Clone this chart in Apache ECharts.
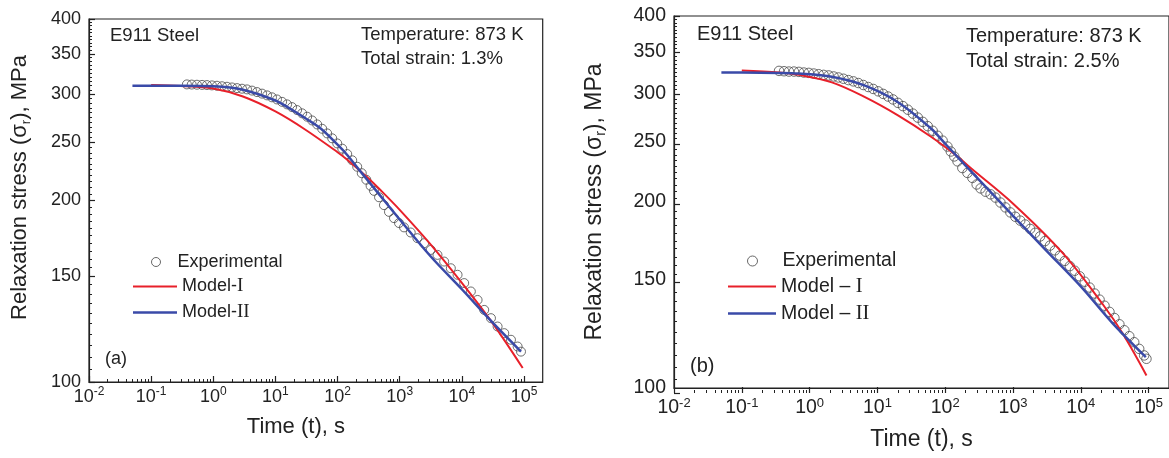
<!DOCTYPE html>
<html>
<head>
<meta charset="utf-8">
<script src="https://cdn.jsdelivr.net/npm/echarts@6/dist/echarts.min.js"></script>
<style>
  html, body { margin: 0; padding: 0; background: #fff; }
  #chart { width: 1169px; height: 458px; }
</style>
</head>
<body>
<div id="chart"></div>
<script>
// tick labels
var xTicks = [0.01, 0.1, 1, 10, 100, 1000, 10000, 100000];
var yTicks = [100, 150, 200, 250, 300, 350, 400];

// (a) total strain 1.3%
var expTimeA = [0.376, 0.45, 0.546, 0.66, 0.79, 0.95, 1.146, 1.38, 1.66, 2.0, 2.41, 2.9, 3.49, 4.2, 5.06, 6.1, 7.34, 8.8, 10.6, 12.8, 15.4, 18.5, 22.3, 26.9, 32.4, 39, 47, 56.6, 68.1, 82, 98.8, 119, 143, 172, 207, 245, 290, 340, 386, 465, 558, 672, 809, 975, 1172, 1503, 1927, 2468, 3162, 4053, 5190, 6650, 8530, 10900, 13960, 17900, 22900, 29400, 37600, 48100, 61700, 79000, 89500];
var expStressA = [311.6, 311.4, 311.2, 311.0, 310.8, 310.4, 310.0, 309.4, 308.8, 308.0, 307.2, 306.5, 305.7, 304.3, 302.6, 300.8, 298.8, 296.6, 294.2, 291.5, 288.7, 285.7, 282.5, 279.0, 275.4, 271.5, 267.4, 263.0, 258.4, 253.6, 248.7, 243.8, 238.8, 233.2, 227.5, 222.0, 216.5, 211.5, 207.5, 202.5, 196.5, 191.5, 187.0, 183.5, 180.5, 177.0, 173.2, 169.9, 165.6, 162.5, 158.4, 154.4, 150.6, 145.9, 141.3, 136.8, 131.7, 127.6, 123.6, 120.5, 117.5, 114.5, 112.3];
var m1TimeA = [0.1, 0.3, 1, 3, 10, 30, 100, 143, 300, 494, 1000, 3162, 10000, 31600, 95300];
var m1StressA = [311, 309.8, 306.8, 297.5, 281, 262.3, 240.5, 233.7, 218.6, 208, 193, 169, 146, 125, 105.5];
var m2TimeA = [0.05, 0.1, 0.3, 1, 3, 10, 15.4, 30, 53, 100, 143, 221, 437, 1000, 3162, 10000, 30000, 89500];
var m2StressA = [310, 310, 310, 309.3, 305.2, 293, 286, 274, 263.5, 247.5, 238, 225, 206.5, 186, 161.5, 142.5, 126, 112.3];

// (b) total strain 2.5%
var expTimeB = [0.354, 0.42, 0.496, 0.587, 0.695, 0.822, 0.973, 1.15, 1.36, 1.61, 1.91, 2.26, 2.67, 3.16, 3.74, 4.43, 5.24, 6.2, 7.34, 8.68, 10.3, 12.2, 14.4, 17, 20.1, 23.8, 28.2, 33.4, 39.5, 46.7, 55.3, 65.4, 77.4, 91.6, 108, 121, 136, 152, 179, 213, 252, 291, 333, 394, 467, 552, 653, 773, 914, 1082, 1280, 1515, 1792, 2121, 2510, 2970, 3514, 4158, 4920, 5822, 6890, 8150, 9650, 11420, 13510, 15990, 18920, 22390, 26490, 31350, 37100, 43900, 51900, 61400, 72700, 86000, 93000];
var expStressB = [326, 325.6, 325.2, 325.2, 324.8, 324, 323.6, 322.8, 322, 321.2, 320.5, 319.3, 318.1, 316.6, 315, 313.5, 311.6, 309.3, 307, 304.8, 302.1, 299.2, 296.3, 293.1, 289.4, 285.9, 282.1, 278, 273.9, 269.6, 265.3, 260.8, 256, 251.4, 245.9, 241.4, 237, 232.7, 227, 222.9, 218.8, 213.5, 210.4, 207.8, 205.8, 203.3, 199.6, 196, 192.4, 189.3, 186.6, 183.9, 180.9, 178.3, 175.9, 172.9, 170.0, 167.0, 163.8, 160.6, 157.5, 154.8, 151.6, 148.6, 145.4, 142.2, 139.0, 135.9, 132.8, 129.8, 126.8, 124.0, 121.3, 118.6, 115.7, 112.9, 111.5];
var m1TimeB = [0.1, 0.355, 0.695, 2.13, 6.56, 20.1, 61.8, 152, 238, 1023, 5510, 21200, 41500, 93000];
var m1StressB = [326.4, 324, 321.2, 312.3, 295.6, 276.2, 255.1, 237, 227, 198.4, 165, 136.5, 122.5, 104.8];
var m2TimeB = [0.05, 0.1, 0.355, 0.695, 2.13, 6.56, 20.1, 61.8, 100, 200, 500, 1000, 3000, 10000, 30000, 91000];
var m2StressB = [324, 324, 323.6, 322.8, 318.9, 308.5, 290.1, 263, 248.5, 229, 206, 190, 167.5, 146, 127, 112.2];

var SANS = 'Liberation Sans, Arial, sans-serif';
var SERIF = 'Liberation Serif, Times New Roman, serif';
var INK = '#222';
var RED = '#e8202a';
var BLUE = '#3a4aa8';
var X_MIN = 0.01, X_MAX = 2e5, Y_MIN = 100, Y_MAX = 400;

// plot boxes of the two panels; tick grids reuse the same boxes
var boxA = { left: 89, top: 19, width: 453.7, height: 363 };
var boxB = { left: 674, top: 16, width: 499.6, height: 377 };

// tick positions in decades (axis decoration only)
var xMajorLog = xTicks.map(Math.log10);
var yMajorLog = yTicks.map(Math.log10);
var xMinorLog = [];
for (var e = -2; e < 5; e++) {
  for (var k = 2; k < 10; k++) xMinorLog.push(e + Math.log10(k));
}
var yMinorLog = [];
for (var v = 105; v < 400; v += 5) {
  if (v % 50 !== 0) yMinorLog.push(Math.log10(v));
}

function pairs(t, s) {
  return t.map(function (x, i) { return [x, s[i]]; });
}

// bare value axis in decades that only carries tick marks
function tickAxis(g, pos, lo, hi, values, len, width) {
  return {
    type: 'value', gridIndex: g, position: pos, min: lo, max: hi,
    splitLine: { show: false }, axisLine: { show: false, onZero: false }, axisLabel: { show: false },
    axisTick: { show: true, inside: true, length: len, customValues: values, lineStyle: { color: INK, width: width } }
  };
}

function mainX(g, f) {
  return {
    type: 'log', logBase: 10, gridIndex: g, position: 'bottom', min: X_MIN, max: X_MAX,
    splitLine: { show: false },
    axisLine: { onZero: false, lineStyle: { color: INK, width: 1.2 } },
    axisTick: { show: false },
    axisLabel: {
      customValues: xTicks, margin: f.xMargin,
      formatter: function (val) {
        return '{b|10}{s|' + Math.round(Math.log10(val)) + '}';
      },
      rich: {
        b: { fontFamily: SANS, fontSize: f.tick, color: INK, lineHeight: 22, verticalAlign: 'middle' },
        s: { fontFamily: SANS, fontSize: f.sup, color: INK, lineHeight: 12, verticalAlign: 'top' }
      }
    },
    name: 'Time (t), s', nameLocation: 'middle', nameGap: f.xGap,
    nameTextStyle: { fontFamily: SANS, fontSize: f.title, color: INK, lineHeight: 26, padding: f.xPad }
  };
}

function mainY(g, f) {
  return {
    type: 'log', logBase: 10, gridIndex: g, position: 'left', min: Y_MIN, max: Y_MAX,
    splitLine: { show: false },
    axisLine: { onZero: false, lineStyle: { color: INK, width: 1.2 } },
    axisTick: { show: false },
    axisLabel: {
      customValues: yTicks, margin: f.yMargin, fontFamily: SANS, fontSize: f.tick, color: INK,
      formatter: function (val) { return String(Math.round(val)); }
    },
    name: '{t|Relaxation stress (σ}{u|r}{t|), MPa}', nameLocation: 'middle', nameGap: f.yGap,
    nameTextStyle: {
      padding: f.yPad,
      rich: {
        t: { fontFamily: SANS, fontSize: f.title, color: INK, lineHeight: 26, verticalAlign: 'middle' },
        u: { fontFamily: SANS, fontSize: f.sub, color: INK, lineHeight: 12, verticalAlign: 'bottom' }
      }
    }
  };
}

function tickX(g) {
  return [
    tickAxis(g, 'bottom', Math.log10(X_MIN), Math.log10(X_MAX), xMajorLog, 6, 1.2),
    tickAxis(g, 'bottom', Math.log10(X_MIN), Math.log10(X_MAX), xMinorLog, 3, 1)
  ];
}
function tickY(g) {
  return [
    tickAxis(g, 'left', Math.log10(Y_MIN), Math.log10(Y_MAX), yMajorLog, 6, 1.2),
    tickAxis(g, 'left', Math.log10(Y_MIN), Math.log10(Y_MAX), yMinorLog, 3, 1)
  ];
}

function legendsFor(f, names) {
  var modelFmt = function (name) {
    var m = name.match(/^(.*?)(I+)$/);
    return '{a|' + m[1] + '}{r|' + m[2] + '}';
  };
  var modelRich = {
    a: { fontFamily: SANS, fontSize: f.leg, color: INK, lineHeight: 22, verticalAlign: 'middle' },
    r: { fontFamily: SERIF, fontSize: f.leg + 1, color: INK, lineHeight: 22, verticalAlign: 'middle' }
  };
  return [{
    selectedMode: false, padding: 0, left: f.expLeft, top: f.expTop,
    itemWidth: f.sym, itemHeight: f.sym,
    data: [{ name: 'Experimental', icon: 'circle',
      itemStyle: { color: 'rgba(0,0,0,0)', borderColor: '#444', borderWidth: 1 } }],
    formatter: function (n) { return '{p|' + n + '}'; },
    textStyle: { rich: { p: { fontFamily: SANS, fontSize: f.leg, color: INK, lineHeight: 22, padding: [0, 0, 0, f.expPad] } } }
  }, {
    selectedMode: false, padding: 0, left: f.lineLeft, top: f.m1Top,
    itemWidth: f.lineW, itemHeight: 2,
    data: [{ name: names[0], icon: 'rect', itemStyle: { color: RED, borderWidth: 0 } }],
    formatter: modelFmt, textStyle: { rich: modelRich }
  }, {
    selectedMode: false, padding: 0, left: f.lineLeft, top: f.m2Top,
    itemWidth: f.lineW, itemHeight: 2.5,
    data: [{ name: names[1], icon: 'rect', itemStyle: { color: BLUE, borderWidth: 0 } }],
    formatter: modelFmt, textStyle: { rich: modelRich }
  }];
}

var fa = { tick: 18, sup: 12, title: 22, sub: 13, xMargin: 4, xGap: 32, xPad: [0, 40, 0, 0],
  yMargin: 8, yGap: 56, yPad: [0, 0, 0, 26], leg: 18, sym: 9,
  expLeft: 151, expTop: 253, expPad: 12, lineLeft: 133, lineW: 44, m1Top: 277, m2Top: 303 };
var fb = { tick: 19.5, sup: 13, title: 23, sub: 14, xMargin: 9, xGap: 39, xPad: [0, 0, 0, 0],
  yMargin: 8, yGap: 66, yPad: [0, 0, 0, 0], leg: 19.5, sym: 10,
  expLeft: 747, expTop: 251, expPad: 20, lineLeft: 728, lineW: 48, m1Top: 276, m2Top: 303 };

function scatter(name, xi, yi, t, s, size) {
  return {
    name: name, type: 'scatter', xAxisIndex: xi, yAxisIndex: yi, z: 2,
    symbol: 'circle', symbolSize: size, data: pairs(t, s),
    itemStyle: { color: 'rgba(0,0,0,0)', borderColor: '#4a4a4a', borderWidth: 1 }
  };
}
function curve(name, xi, yi, t, s, color, width) {
  return {
    name: name, type: 'line', xAxisIndex: xi, yAxisIndex: yi, z: 3,
    symbol: 'none', smooth: 0.35, data: pairs(t, s),
    lineStyle: { color: color, width: width }, itemStyle: { color: color }
  };
}

function label(text, x, y, size) {
  return { type: 'text', x: x, y: y, silent: true,
    style: { text: text, fontFamily: SANS, fontSize: size, fill: INK, verticalAlign: 'middle' } };
}

function box(b, shown) {
  return { left: b.left, top: b.top, width: b.width, height: b.height,
    show: shown, borderColor: INK, borderWidth: 1.2 };
}

var chart = echarts.init(document.getElementById('chart'));
chart.setOption({
  animation: false,
  grid: [box(boxA, true), box(boxB, true), box(boxA, false), box(boxB, false)],
  xAxis: [mainX(0, fa), mainX(1, fb)].concat(tickX(2), tickX(3)),
  yAxis: [mainY(0, fa), mainY(1, fb)].concat(tickY(2), tickY(3)),
  legend: legendsFor(fa, ['Model-I', 'Model-II']).concat(legendsFor(fb, ['Model – I', 'Model – II'])),
  series: [
    scatter('Experimental', 0, 0, expTimeA, expStressA, 9),
    curve('Model-I', 0, 0, m1TimeA, m1StressA, RED, 2),
    curve('Model-II', 0, 0, m2TimeA, m2StressA, BLUE, 2.5),
    scatter('Experimental', 1, 1, expTimeB, expStressB, 9.5),
    curve('Model – I', 1, 1, m1TimeB, m1StressB, RED, 2),
    curve('Model – II', 1, 1, m2TimeB, m2StressB, BLUE, 2.5)
  ],
  graphic: [
    label('E911 Steel', 110, 36, 18.5),
    label('Temperature: 873 K', 361, 35, 18.5),
    label('Total strain: 1.3%', 361, 59, 18.5),
    label('(a)', 105, 359, 18),
    label('E911 Steel', 697, 34, 20),
    label('Temperature: 873 K', 966, 36, 20),
    label('Total strain: 2.5%', 966, 61, 20),
    label('(b)', 690, 366, 20)
  ]
});
</script>
</body>
</html>
